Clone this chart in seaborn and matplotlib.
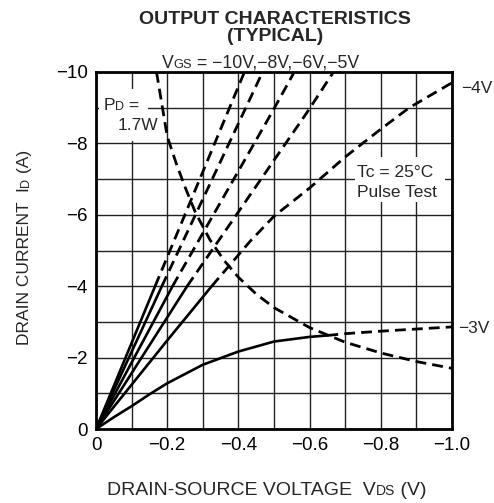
import numpy as np
import pandas as pd
import matplotlib
matplotlib.use("Agg")
import matplotlib.pyplot as plt
import seaborn as sns
from matplotlib.ticker import MultipleLocator
from matplotlib.text import Annotation
from matplotlib.patches import Rectangle

W, H = 494, 503

# output curves (VDS in V, ID in A)
VGS_NAMES = ["-10V", "-8V", "-6V", "-5V", "-4V", "-3V"]
VDS_10 = [0, -0.166, -0.417]
ID_10 = [0, -4.0, -10.0]
VDS_8 = [0, -0.185, -0.468]
ID_8 = [0, -4.0, -10.0]
VDS_6 = [0, -0.215, -0.496, -0.557]
ID_6 = [0, -4.0, -8.9, -10.0]
VDS_5 = [0, -0.256, -0.595, -0.667]
ID_5 = [0, -4.0, -8.9, -10.0]
VDS_4 = [0, -0.1, -0.2, -0.325, -0.433, -0.5, -0.6, -0.7, -0.8, -0.88, -0.94, -1.0]
ID_4 = [0, -1.24, -2.48, -4.0, -5.26, -5.96, -6.75, -7.62, -8.4, -9.0, -9.35, -9.7]
VDS_3 = [0, -0.05, -0.1, -0.15, -0.2, -0.3, -0.4, -0.5, -0.6, -0.65, -0.7, -0.8, -0.9, -1.0]
ID_3 = [0, -0.33, -0.64, -0.97, -1.28, -1.8, -2.17, -2.45, -2.58, -2.62, -2.67, -2.74, -2.8, -2.86]
# points drawn solid at the start of each curve, rest dashed
SOLID_PTS = [2, 2, 2, 2, 4, 10]

# PD = 1.7W power limit
PD_VDS = [-0.17, -0.185, -0.2, -0.225, -0.25, -0.28, -0.32, -0.36, -0.4,
          -0.45, -0.5, -0.6, -0.7, -0.8, -0.9, -1.0]
PD_ID = [-10.0, -9.1, -8.2, -7.45, -6.78, -6.05, -5.3, -4.72, -4.25,
         -3.78, -3.4, -2.84, -2.43, -2.13, -1.89, -1.7]

XTICKS = [0, -0.2, -0.4, -0.6, -0.8, -1.0]
XTICK_LABELS = ["0", "\u22120.2", "\u22120.4", "\u22120.6", "\u22120.8", "\u22121.0"]
YTICKS = [0, -2, -4, -6, -8, -10]
YTICK_LABELS = ["0", "\u22122", "\u22124", "\u22126", "\u22128", "\u221210"]

sns.set_style("white")
plt.rcParams["font.family"] = ["Liberation Sans", "DejaVu Sans"]

fig = plt.figure(figsize=(W / 100, H / 100), dpi=100)
ax = fig.add_axes([96 / W, 1 - 429 / H, 356 / W, 357 / H])

DASH = (0, (3.9, 2.2))
curves = [(VDS_10, ID_10), (VDS_8, ID_8), (VDS_6, ID_6),
          (VDS_5, ID_5), (VDS_4, ID_4), (VDS_3, ID_3)]
for (vds, ids), n in zip(curves, SOLID_PTS):
    sns.lineplot(x=vds[:n], y=ids[:n], ax=ax, color="black", lw=1.9,
                 sort=False, estimator=None, zorder=5)
    sns.lineplot(x=vds[n - 1:], y=ids[n - 1:], ax=ax, color="black", lw=2.0,
                 linestyle=DASH, sort=False, estimator=None, zorder=5)
sns.lineplot(x=PD_VDS, y=PD_ID, ax=ax, color="black", lw=2.0,
             linestyle=DASH, sort=False, estimator=None, zorder=5)

ax.set_xlim(0, -1.0)
ax.set_ylim(0, -10)
ax.set_xticks(XTICKS)
ax.set_xticklabels(XTICK_LABELS)
ax.set_yticks(YTICKS)
ax.set_yticklabels(YTICK_LABELS)
ax.xaxis.set_minor_locator(MultipleLocator(0.1))
ax.yaxis.set_minor_locator(MultipleLocator(1))
ax.grid(which="both", color="#222222", lw=1.0, zorder=1)
ax.set_axisbelow(True)
ax.tick_params(which="both", length=0, pad=6, labelsize=13.5, colors="black")
for s in ax.spines.values():
    s.set_color("black")
    s.set_linewidth(2.0)
    s.set_zorder(6)

# white patches behind the in-plot notes (pixel boxes)
for x0, y0, x1, y1 in [(99, 89, 148, 116), (113, 116, 160, 141), (355, 157, 445, 202)]:
    ax.add_patch(Rectangle((x0 / W, 1 - y1 / H), (x1 - x0) / W, (y1 - y0) / H,
                           transform=fig.transFigure, facecolor="white",
                           edgecolor="none", zorder=2))


def rich(x, y, pieces, rot=False):
    """Draw text pieces (string, size) one after another on a common baseline (pixel coords)."""
    prev = None
    for txt, size in pieces:
        kw = dict(fontsize=size, ha="left", va="baseline", annotation_clip=False)
        if rot:
            kw.update(rotation=90, rotation_mode="anchor")
        if prev is None:
            a = Annotation(txt, xy=(x / W, 1 - y / H), xycoords="figure fraction", **kw)
        elif rot:
            a = Annotation(txt, xy=(x / W, 1), xycoords=("figure fraction", prev), **kw)
        else:
            a = Annotation(txt, xy=(1, 1 - y / H), xycoords=(prev, "figure fraction"), **kw)
        fig.add_artist(a)
        prev = a
    return prev


fig.text(275 / W, 1 - 19.5 / H, "OUTPUT CHARACTERISTICS", ha="center", va="center",
         fontsize=14, fontweight="bold")
fig.text(275 / W, 1 - 37 / H, "(TYPICAL)", ha="center", va="center",
         fontsize=14, fontweight="bold")
rich(162, 68, [("V", 12.7), ("GS", 9.3), (" = \u221210V,\u22128V,\u22126V,\u22125V", 12.7)])

rich(107, 495, [("DRAIN-SOURCE VOLTAGE  V", 14), ("DS", 10), (" (V)", 14)])
rich(29, 345, [("DRAIN CURRENT  I", 12.5), ("D", 9), (" (A)", 12.5)], rot=True)

rich(461, 93, [("\u22124V", 12.5)])
rich(458, 333, [("\u22123V", 12.5)])

rich(104, 110, [("P", 12.5), ("D", 9), (" =", 12.5)])
rich(118, 130, [("1.7W", 12.5)])
rich(357, 177, [("Tc = 25\u00b0C", 12.5)])
rich(357, 197, [("Pulse Test", 12.5)])

fig.savefig("out.png", dpi=100)
